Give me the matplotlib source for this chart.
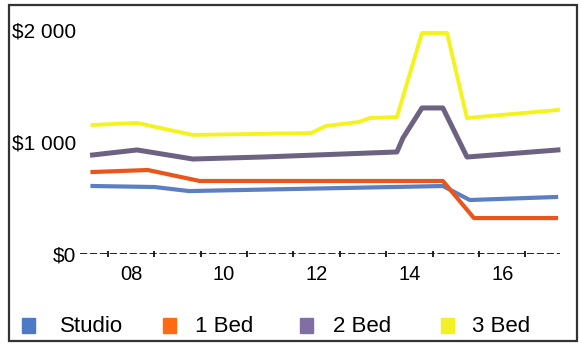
import matplotlib
matplotlib.use("Agg")
import matplotlib.pyplot as plt
from matplotlib.patches import Rectangle

plt.rcParams['font.family'] = ['Liberation Sans', 'DejaVu Sans']

# ---- data (year, monthly rent in $) ----
studio_x = [2007.67, 2009.01, 2009.75, 2015.22, 2015.80, 2017.66]
studio_y = [607, 598, 562, 607, 482, 509]

bed1_x = [2007.67, 2008.86, 2009.98, 2015.22, 2015.89, 2017.66]
bed1_y = [732, 750, 652, 652, 321, 321]

bed2_x = [2007.67, 2008.63, 2009.83, 2011.34, 2014.23, 2014.36, 2014.77, 2015.22, 2015.74, 2017.70]
bed2_y = [884, 929, 848, 866, 911, 1036, 1304, 1304, 866, 929]

bed3_x = [2007.67, 2008.63, 2009.83, 2012.38, 2012.70, 2013.41, 2013.65, 2014.23, 2014.77, 2015.31, 2015.74, 2017.70]
bed3_y = [1152, 1170, 1063, 1080, 1143, 1179, 1214, 1223, 1973, 1973, 1214, 1286]

series_labels = ["Studio", "1 Bed", "2 Bed", "3 Bed"]
line_colors = ["#5b7fc2", "#e9561c", "#6d6282", "#f4f31c"]
legend_colors = ["#4d7ac6", "#ff6a12", "#7f6fa3", "#f1f125"]

y_ticks = [0, 1000, 2000]
y_ticklabels = ["$0", "$1 000", "$2 000"]
x_ticks = [2008.5, 2010.5, 2012.5, 2014.5, 2016.5]
x_ticklabels = ["08", "10", "12", "14", "16"]
minor_years = list(range(2008, 2018))

W, H = 581, 345
fig = plt.figure(figsize=(W / 100, H / 100), dpi=100)

def fx(px):
    return px / W

def fy(py):
    return 1 - py / H

ax = fig.add_axes([fx(80), fy(254), fx(570) - fx(80), fy(30) - fy(254)])
ax.set_xlim(2007.40, 2017.96)
ax.set_ylim(0, 2000)

xs = [studio_x, bed1_x, bed2_x, bed3_x]
ys = [studio_y, bed1_y, bed2_y, bed3_y]
widths = [3.0, 3.0, 3.6, 2.8]
for x, y, c, lw in zip(xs, ys, line_colors, widths):
    ax.plot(x, y, color=c, lw=lw, solid_joinstyle='round', clip_on=False)

# baseline
ax.axhline(0, color="#111111", lw=1.3, ls=(0, (4, 1.5)), xmax=0.98)

for s in ax.spines.values():
    s.set_visible(False)

ax.set_yticks(y_ticks)
ax.set_yticklabels(y_ticklabels)
ax.set_xticks(x_ticks)
ax.set_xticklabels(x_ticklabels)
ax.set_xticks(minor_years, minor=True)
ax.tick_params(axis='y', length=0, pad=3, labelsize=15, colors="#000000")
ax.tick_params(axis='x', which='major', length=0, pad=8, labelsize=14.5, colors="#000000")
ax.tick_params(axis='x', which='minor', length=5, width=1.4, direction='inout', color="#222222")

# outer frame
fig.patches.append(Rectangle((fx(9), fy(341)), fx(577) - fx(9), fy(5) - fy(341),
                             transform=fig.transFigure, fill=False,
                             edgecolor="#333333", lw=1.6))

# legend (manual)
sq_x = [22, 163, 300, 441]
txt_x = [60, 195, 333, 472]
for lab, c, sx, tx in zip(series_labels, legend_colors, sq_x, txt_x):
    fig.patches.append(Rectangle((fx(sx), fy(333)), fx(13), 15 / H,
                                 transform=fig.transFigure, color=c))
    fig.text(fx(tx), fy(327), lab, fontsize=16, va='center', ha='left', color="#000000")

fig.savefig("out.png", dpi=100)
